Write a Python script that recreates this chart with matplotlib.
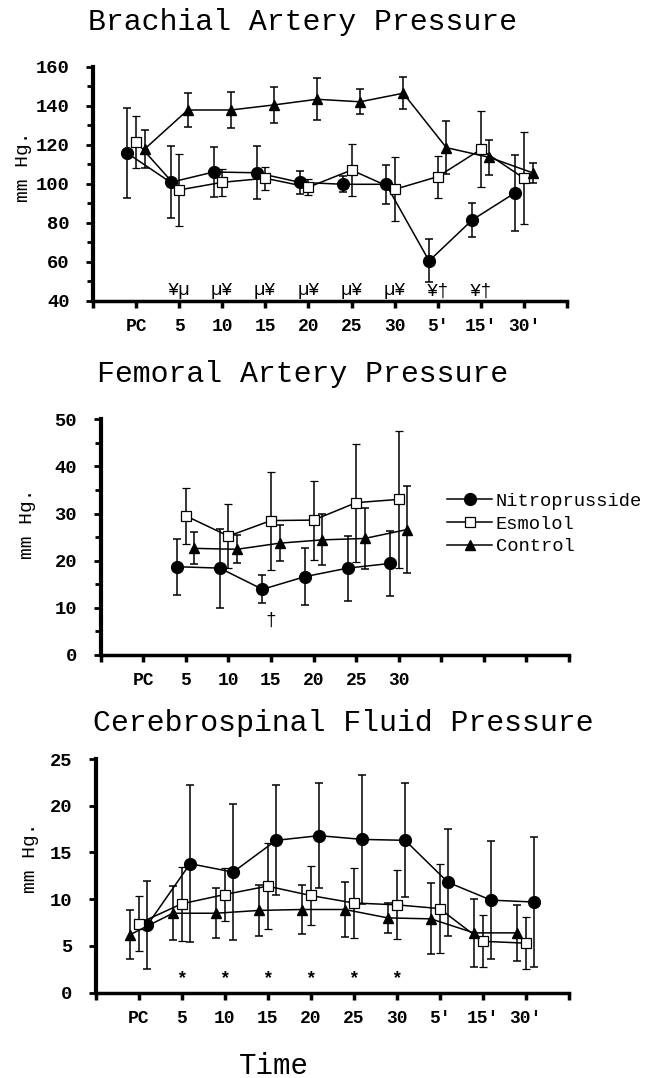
import matplotlib
matplotlib.use("Agg")
import matplotlib.pyplot as plt
from matplotlib.lines import Line2D
import numpy as np

plt.rcParams['font.family'] = ['Liberation Mono', 'DejaVu Sans Mono']

# ---------------- data ----------------
time_labels = ["PC", "5", "10", "15", "20", "25", "30", "5'", "15'", "30'"]
series_names = ["Nitroprusside", "Esmolol", "Control"]

# Brachial artery pressure (mm Hg), PC..30'
nitro_brach = [115.6, 100.7, 106.0, 105.6, 100.7, 99.7, 99.7, 60.4, 81.4, 95.4]
nitro_brach_sd = [23.0, 18.5, 13.0, 13.7, 6.0, 4.0, 10.0, 11.0, 8.5, 19.5]
esmo_brach = [121.5, 96.8, 100.7, 102.8, 98.2, 107.0, 97.1, 103.6, 117.6, 102.8]
esmo_brach_sd = [13.3, 18.3, 7.0, 5.8, 4.0, 13.5, 16.4, 10.8, 19.5, 23.6]
ctrl_brach = [117.8, 137.8, 137.8, 140.4, 143.3, 142.0, 146.4, 118.5, 113.5, 105.6]
ctrl_brach_sd = [9.7, 8.5, 9.0, 9.2, 10.7, 6.4, 8.2, 13.7, 9.0, 5.0]
brach_marks = ["¥µ", "µ¥", "µ¥", "µ¥", "µ¥", "µ¥", "¥†", "¥†"]   # at 5 .. 15'

# Femoral artery pressure (mm Hg), 5..30
fem_labels = ["PC", "5", "10", "15", "20", "25", "30"]
nitro_fem = [18.7, 18.4, 13.9, 16.6, 18.4, 19.4]
nitro_fem_sd = [5.9, 8.4, 3.0, 6.0, 6.9, 6.9]
esmo_fem = [29.5, 25.2, 28.5, 28.6, 32.3, 33.0]
esmo_fem_sd = [5.9, 6.8, 10.4, 8.4, 12.5, 14.5]
ctrl_fem = [22.6, 22.4, 23.7, 24.4, 24.7, 26.6]
ctrl_fem_sd = [3.4, 3.0, 3.8, 5.4, 6.5, 9.3]
fem_marks = ["", "", "†", "", "", ""]

# Cerebrospinal fluid pressure (mm Hg), PC..30'
nitro_csf = [7.2, 13.8, 12.9, 16.3, 16.8, 16.4, 16.3, 11.8, 9.9, 9.7]
nitro_csf_sd = [4.7, 8.4, 7.3, 5.9, 5.6, 6.9, 6.1, 5.7, 6.3, 7.0]
esmo_csf = [7.4, 9.5, 10.5, 11.4, 10.4, 9.6, 9.4, 9.0, 5.5, 5.3]
esmo_csf_sd = [2.9, 4.0, 2.8, 4.6, 3.2, 3.7, 3.7, 4.8, 2.8, 2.8]
ctrl_csf = [6.2, 8.5, 8.5, 8.8, 8.9, 8.9, 8.0, 7.9, 6.4, 6.4]
ctrl_csf_sd = [2.6, 2.9, 2.7, 2.7, 2.6, 2.9, 1.6, 3.8, 3.6, 3.0]
csf_marks = ["*", "*", "*", "*", "*", "*"]   # at 5 .. 30

# ---------------- style ----------------
W, H = 647, 1078
fig = plt.figure(figsize=(W / 100, H / 100), dpi=100)

def px_axes(left, right, top, bottom):
    return fig.add_axes([left / W, 1 - bottom / H, (right - left) / W, (bottom - top) / H])

marker_style = {
    "Nitroprusside": dict(marker="o", ms=8.5, mfc="black", mec="black"),
    "Esmolol": dict(marker="s", ms=6.5, mfc="white", mec="black", mew=0.9),
    "Control": dict(marker="^", ms=7.5, mfc="black", mec="black"),
}

def draw_series(ax, xs, ys, sds, name):
    ax.errorbar(xs, ys, yerr=sds, color="black", lw=1.1, elinewidth=1.1,
                capsize=3.2, capthick=1.1, zorder=3, **marker_style[name])

def style_axes(ax, ylim, major, minor, labels, label_pos, ylab_xy):
    ax.set_xlim(0, 11)
    ax.set_ylim(*ylim)
    for s in ("top", "right"):
        ax.spines[s].set_visible(False)
    ax.spines["left"].set_linewidth(3)
    ax.spines["bottom"].set_linewidth(2.5)
    ax.set_yticks(major)
    if minor is not None:
        ax.set_yticks(minor, minor=True)
    ax.set_xticks(np.arange(0, 12))
    ax.set_xticklabels([""] * 12)
    for p, lab in zip(label_pos, labels):
        ax.text(p, -0.075, lab, transform=ax.get_xaxis_transform(),
                ha="center", va="top", fontsize=13, fontweight="bold")
    ax.tick_params(axis="y", direction="out", length=5, width=2, labelsize=13.5, pad=12)
    ax.tick_params(axis="y", which="minor", direction="out", length=4, width=2)
    ax.tick_params(axis="x", direction="out", length=5, width=2.5)
    for t in ax.get_yticklabels():
        t.set_fontweight("bold")
    fig.text(ylab_xy[0] / W, 1 - ylab_xy[1] / H, "mm Hg.", rotation=90,
             ha="center", va="center", fontsize=14)

off = 0.2
TITLE_FS = 21.5

# ---------- Brachial ----------
ax1 = px_axes(93, 567, 66.7, 300.7)
pos = np.arange(1, len(time_labels) + 1)
draw_series(ax1, pos - off, nitro_brach, nitro_brach_sd, "Nitroprusside")
draw_series(ax1, pos, esmo_brach, esmo_brach_sd, "Esmolol")
draw_series(ax1, pos + off, ctrl_brach, ctrl_brach_sd, "Control")
style_axes(ax1, (40, 160), np.arange(40, 161, 20), np.arange(50, 160, 20),
           time_labels, pos, (23, 167))
for p, m in zip(pos[1:9], brach_marks):
    ax1.text(p, 45, m, ha="center", va="center", fontsize=13.5)
fig.text(303 / W, 1 - 22 / H, "Brachial Artery Pressure", ha="center", va="center", fontsize=TITLE_FS)

# ---------- Femoral ----------
ax2 = px_axes(100.7, 569, 419.3, 654.8)
fpos = np.arange(2, 2 + len(nitro_fem))
draw_series(ax2, fpos - off, nitro_fem, nitro_fem_sd, "Nitroprusside")
draw_series(ax2, fpos, esmo_fem, esmo_fem_sd, "Esmolol")
draw_series(ax2, fpos + off, ctrl_fem, ctrl_fem_sd, "Control")
style_axes(ax2, (0, 50), np.arange(0, 51, 10), np.arange(5, 50, 10), fem_labels,
           np.arange(1, len(fem_labels) + 1), (28, 524))
for p, m in zip(fpos, fem_marks):
    if m:
        ax2.text(p, 7.4, m, ha="center", va="center", fontsize=13)
fig.text(303 / W, 1 - 374 / H, "Femoral Artery Pressure", ha="center", va="center", fontsize=TITLE_FS)

handles = [Line2D([], [], color="black", lw=1.1, **marker_style[n]) for n in series_names]
fig.legend(handles, series_names, loc="center left", bbox_to_anchor=(447 / W, 1 - 524 / H),
           frameon=False, fontsize=13.5, handlelength=2.4, handletextpad=0.2,
           labelspacing=0.3, borderpad=0, borderaxespad=0)

# ---------- CSF ----------
ax3 = px_axes(95.5, 568.5, 759, 992.7)
draw_series(ax3, pos + off, nitro_csf, nitro_csf_sd, "Nitroprusside")
draw_series(ax3, pos, esmo_csf, esmo_csf_sd, "Esmolol")
draw_series(ax3, pos - off, ctrl_csf, ctrl_csf_sd, "Control")
style_axes(ax3, (0, 25), np.arange(0, 26, 5), None, time_labels, pos, (31, 858))
for p, m in zip(pos[1:7], csf_marks):
    ax3.text(p, 1.5, m, ha="center", va="center", fontsize=13, fontweight="bold")
fig.text(343 / W, 1 - 723 / H, "Cerebrospinal Fluid Pressure", ha="center", va="center", fontsize=TITLE_FS)
fig.text(274 / W, 1 - 1066 / H, "Time", ha="center", va="center", fontsize=21)

for ax in (ax1, ax2, ax3):
    for l in ax.get_lines():
        l.set_clip_on(False)

fig.savefig("out.png", dpi=100)
